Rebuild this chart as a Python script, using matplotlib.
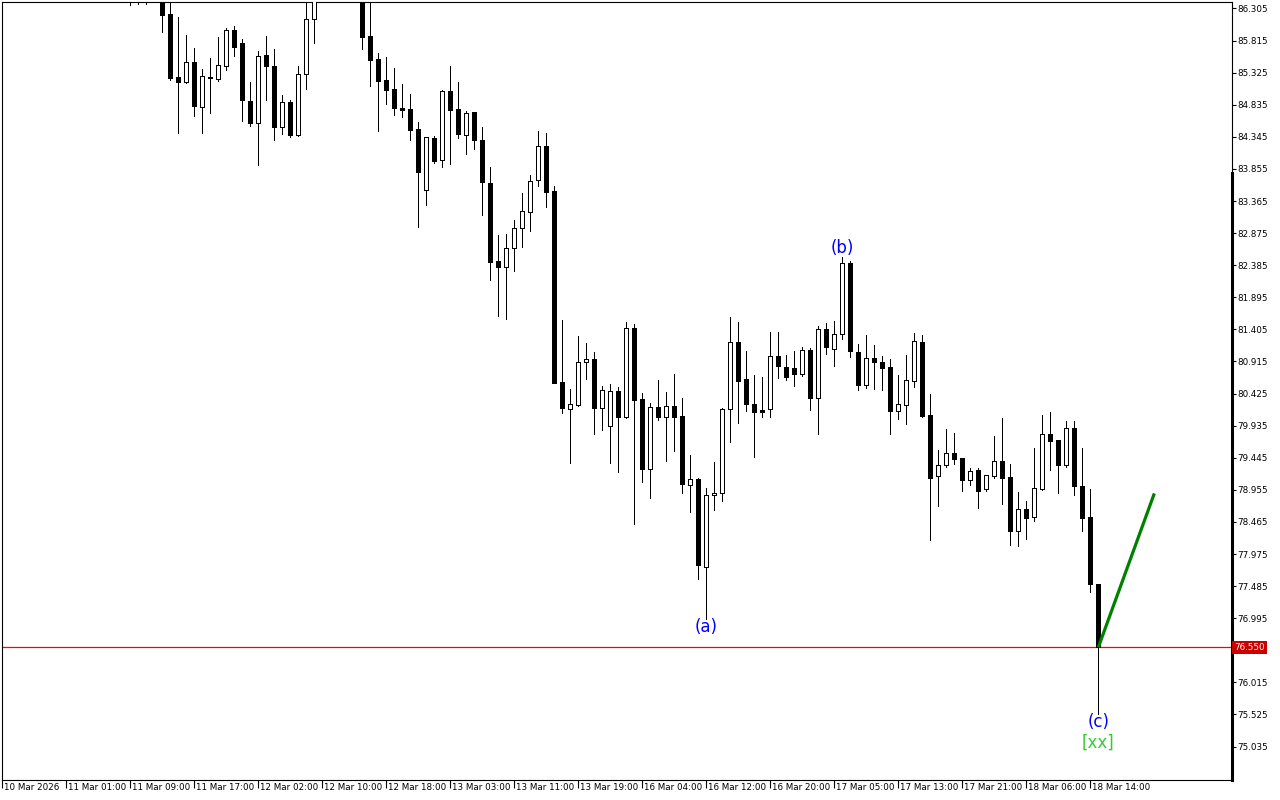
import matplotlib
matplotlib.use("Agg")
import matplotlib.pyplot as plt
import matplotlib.transforms as mtransforms
from matplotlib.lines import Line2D
import numpy as np

# ---------------- data (H1 candles, first visible index = 16) ----------------
first_index = 16
opens = [86.70, 86.55, 86.62, 86.80, 86.60, 86.22, 85.26, 85.19, 85.49, 84.80,
         85.26, 85.23, 85.42, 85.98, 85.78, 84.89, 84.56, 85.60, 85.43, 84.50,
         84.87, 84.37, 85.30, 86.14, 86.70, 86.95, 87.15, 86.95, 86.85, 86.70,
         85.89, 85.54, 85.21, 85.08, 84.79, 84.77, 84.46, 83.54, 84.32, 83.99,
         85.05, 84.77, 84.38, 84.72, 84.30, 83.64, 82.45, 82.36, 82.64, 82.96,
         83.20, 83.68, 84.21, 83.52, 80.60, 80.19, 80.25, 80.90, 80.95, 80.21,
         79.93, 80.47, 80.06, 81.42, 80.34, 79.27, 80.22, 80.06, 80.24, 80.08,
         79.03, 79.12, 77.78, 78.87, 78.90, 80.19, 81.21, 80.65, 80.27, 80.17,
         80.19, 81.00, 80.83, 80.81, 80.72, 81.09, 80.35, 81.41, 81.11, 81.33,
         82.42, 81.06, 80.55, 80.97, 80.91, 80.83, 80.16, 80.25, 80.62, 81.21,
         80.10, 79.16, 79.33, 79.52, 79.44, 79.11, 79.26, 78.96, 79.17, 79.40,
         79.15, 78.32, 78.66, 78.54, 78.97, 79.81, 79.72, 79.34, 79.90, 79.02,
         78.54, 77.51]
highs = [86.80, 86.75, 86.90, 86.95, 86.70, 86.45, 86.18, 85.90, 85.70, 85.38,
         85.55, 85.87, 86.01, 86.04, 85.84, 85.18, 85.66, 85.89, 85.69, 84.98,
         84.91, 85.43, 86.42, 86.90, 87.10, 87.30, 87.40, 87.20, 87.00, 86.85,
         86.43, 85.63, 85.56, 85.40, 85.15, 85.00, 84.57, 84.34, 84.36, 85.06,
         85.42, 85.18, 84.74, 84.73, 84.50, 83.88, 82.85, 82.86, 83.08, 83.49,
         83.76, 84.43, 84.40, 83.60, 81.55, 80.50, 81.30, 81.20, 81.06, 80.54,
         80.57, 80.53, 81.52, 81.49, 80.44, 80.28, 80.63, 80.45, 80.72, 80.35,
         79.48, 79.13, 78.98, 79.38, 80.20, 81.60, 81.52, 81.07, 80.71, 80.68,
         81.37, 81.37, 81.01, 81.08, 81.13, 81.12, 81.46, 81.50, 81.54, 82.51,
         82.45, 81.18, 81.32, 81.17, 81.00, 80.95, 80.71, 81.01, 81.35, 81.32,
         80.42, 79.56, 79.88, 79.83, 79.44, 79.29, 79.29, 79.18, 79.78, 80.05,
         79.35, 78.92, 78.78, 79.59, 80.10, 80.14, 79.72, 80.01, 80.01, 79.59,
         78.97, 77.51]
lows = [86.36, 86.38, 86.38, 86.50, 85.94, 85.21, 84.40, 85.16, 84.67, 84.41,
        84.71, 85.20, 85.36, 85.58, 84.58, 84.51, 83.92, 84.90, 84.30, 84.39,
        84.35, 84.36, 85.08, 85.78, 86.50, 86.70, 86.80, 86.60, 86.45, 85.69,
        85.12, 84.44, 84.84, 84.68, 84.65, 84.30, 82.97, 83.30, 83.95, 83.89,
        83.93, 84.33, 84.09, 84.16, 83.15, 82.16, 81.61, 81.57, 82.30, 82.67,
        82.90, 83.60, 83.28, 80.58, 80.13, 79.37, 80.23, 80.65, 79.81, 79.87,
        79.37, 79.23, 80.05, 78.43, 79.08, 78.83, 80.02, 79.39, 79.55, 78.91,
        78.62, 77.59, 76.99, 78.64, 78.79, 79.69, 79.98, 80.16, 79.46, 80.07,
        80.06, 80.67, 80.63, 80.54, 80.69, 80.17, 79.81, 81.03, 80.85, 81.26,
        80.99, 80.48, 80.51, 80.50, 80.48, 79.81, 80.04, 79.96, 80.52, 80.07,
        78.19, 78.71, 79.30, 79.35, 78.94, 79.03, 78.68, 78.94, 79.14, 78.74,
        78.12, 78.09, 78.21, 78.48, 78.95, 79.26, 78.91, 79.31, 78.87, 78.33,
        77.39, 75.53]
closes = [86.55, 86.62, 86.80, 86.60, 86.21, 85.25, 85.19, 85.49, 84.81, 85.27,
          85.24, 85.44, 85.98, 85.71, 84.90, 84.56, 85.58, 85.42, 84.50, 84.87,
          84.37, 85.30, 86.14, 86.70, 86.95, 87.15, 86.95, 86.85, 86.70, 85.87,
          85.52, 85.20, 85.06, 84.78, 84.76, 84.45, 83.81, 84.34, 83.98, 85.05,
          84.76, 84.39, 84.71, 84.29, 83.65, 82.44, 82.36, 82.64, 82.96, 83.21,
          83.67, 84.21, 83.51, 80.59, 80.21, 80.26, 80.90, 80.95, 80.21, 80.48,
          80.47, 80.06, 81.42, 80.33, 79.27, 80.22, 80.06, 80.24, 80.06, 79.04,
          79.12, 77.80, 78.87, 78.91, 80.19, 81.21, 80.62, 80.26, 80.15, 80.15,
          81.00, 80.84, 80.68, 80.72, 81.09, 80.35, 81.41, 81.13, 81.33, 82.42,
          81.07, 80.55, 80.97, 80.90, 80.82, 80.16, 80.27, 80.63, 81.23, 80.08,
          79.14, 79.33, 79.51, 79.43, 79.11, 79.24, 78.94, 79.18, 79.40, 79.13,
          78.32, 78.66, 78.53, 78.98, 79.81, 79.70, 79.34, 79.90, 79.02, 78.53,
          77.51, 76.55]

tick_index = [0, 8, 16, 24, 32, 40, 48, 56, 64, 72, 80, 88, 96, 104, 112, 120, 128, 136]
tick_labels = ["10 Mar 2026", "11 Mar 01:00", "11 Mar 09:00", "11 Mar 17:00",
               "12 Mar 02:00", "12 Mar 10:00", "12 Mar 18:00", "13 Mar 03:00",
               "13 Mar 11:00", "13 Mar 19:00", "16 Mar 04:00", "16 Mar 12:00",
               "16 Mar 20:00", "17 Mar 05:00", "17 Mar 13:00", "17 Mar 21:00",
               "18 Mar 06:00", "18 Mar 14:00"]
price_ticks = [86.305, 85.815, 85.325, 84.835, 84.345, 83.855, 83.365, 82.875,
               82.385, 81.895, 81.405, 80.915, 80.425, 79.935, 79.445, 78.955,
               78.465, 77.975, 77.485, 76.995, 76.505, 76.015, 75.525, 75.035]
current_price = 76.550
wave_line_x = [137, 144]
wave_line_y = [76.55, 78.90]
wave_labels = ["(a)", "(b)", "(c)", "[xx]"]
wave_label_x = [88, 105, 137, 137]
wave_label_y = [76.86, 82.64, 75.41, 75.09]
wave_label_colors = ["#0000FF", "#0000FF", "#0000FF", "#32CD32"]

# ---------------- figure ----------------
plt.rcParams['font.family'] = ['DejaVu Sans']
fig = plt.figure(figsize=(12.8, 8), dpi=100)
fig.patch.set_facecolor("white")
ax = fig.add_axes([2 / 1280, 20 / 800, 1230 / 1280, 778 / 800])
ax.set_facecolor("white")

x = first_index + np.arange(len(opens))
o = np.array(opens); h = np.array(highs); l = np.array(lows); c = np.array(closes)

px = 72 / 100  # one pixel in points
ax.vlines(x, l, h, color="black", linewidth=px, zorder=2, antialiased=False)
bull = c > o
bottoms = np.minimum(o, c)
heights = np.abs(c - o)
face = np.where(bull, "white", "black")
ax.bar(x, heights, bottom=bottoms, width=0.5, color=face, edgecolor="black",
       linewidth=px, zorder=3, antialiased=False)

# current price line
ax.axhline(current_price, color="#FF0000", linewidth=0.9, zorder=1)

# wave line and labels
ax.plot(wave_line_x, wave_line_y, color="#008000", linewidth=2.3,
        solid_capstyle="butt", zorder=4)
for t, xx, yy, col in zip(wave_labels, wave_label_x, wave_label_y, wave_label_colors):
    ax.text(xx, yy, t, color=col, fontsize=12, ha="center", va="center", zorder=5)

ax.set_xlim(-0.04, 153.71)
ax.set_ylim(74.524, 86.404)

for s in ax.spines.values():
    s.set_color("black")
    s.set_linewidth(0.8)

# y axis on right; the label under the price tag is hidden as in the reference
ax.yaxis.tick_right()
ax.set_yticks(price_ticks)
ax.set_yticklabels(["" if abs(p - current_price) < 0.1 else f"{p:.3f}"
                    for p in price_ticks])
ax.tick_params(axis="y", direction="out", length=3, width=0.8, labelsize=6.3,
               pad=1, colors="black")

# x axis ticks with left-aligned labels
ax.set_xticks(tick_index)
ax.set_xticklabels(tick_labels)
ax.tick_params(axis="x", direction="out", length=6, width=0.8, labelsize=6.3,
               pad=-4, colors="black")
offset = mtransforms.ScaledTranslation(2 / 100, 0, fig.dpi_scale_trans)
for lab in ax.get_xticklabels():
    lab.set_horizontalalignment("left")
    lab.set_transform(lab.get_transform() + offset)

# thick segment of the right border
ax.add_line(Line2D([1, 1], [0, 0.78], transform=ax.transAxes, color="black",
                   linewidth=2.2, clip_on=False, zorder=6))

# current price tag
trans = mtransforms.blended_transform_factory(ax.transAxes, ax.transData)
ax.text(1.002, current_price, f"{current_price:.3f}", transform=trans,
        color="white", fontsize=6.3, ha="left", va="center", zorder=10,
        clip_on=False,
        bbox=dict(facecolor="#C80000", edgecolor="none", pad=1.6))

fig.savefig("out.png", dpi=100, facecolor="white")
